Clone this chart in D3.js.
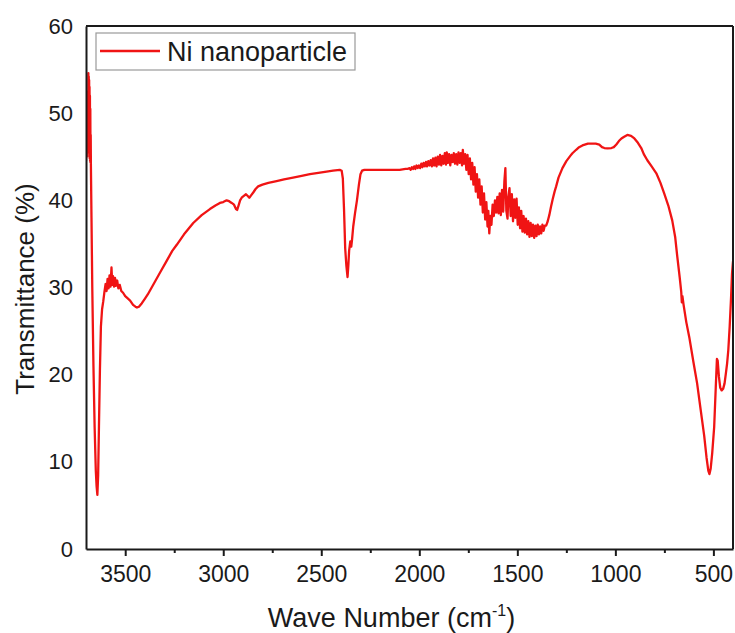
<!DOCTYPE html>
<html>
<head>
<meta charset="utf-8">
<script src="https://cdn.jsdelivr.net/npm/d3@7"></script>
<style>
  html, body { margin: 0; padding: 0; background: #fff; }
  svg { display: block; font-family: "Liberation Sans", Arial, sans-serif; }
</style>
</head>
<body>
<svg id="chart" width="735" height="633"></svg>
<script>
// ---- Data ----
const seriesName = "Ni nanoparticle";
const xTicks = [3500, 3000, 2500, 2000, 1500, 1000, 500];
const xMinorTicks = [3250, 2750, 2250, 1750, 1250, 750];
const yTicks = [0, 10, 20, 30, 40, 50, 60];

const wavenumber = [
  3700, 3698, 3696, 3694, 3692, 3690, 3689, 3688, 3687, 3686, 3685, 3684, 3683, 3682, 3681, 3680, 3679, 3678, 3677, 3676,
  3675, 3672, 3668, 3662, 3656, 3650, 3646, 3642, 3638, 3634, 3629, 3624, 3618, 3612,
  3606, 3600, 3595, 3590, 3585, 3580, 3575, 3570, 3566, 3562, 3557, 3552, 3547, 3541, 3535, 3528, 3520, 3511, 3500, 3490,
  3475, 3460, 3448, 3440, 3430, 3415, 3400, 3385, 3370, 3350, 3320, 3290, 3260, 3237, 3200, 3153, 3110, 3068, 3040, 3017,
  3000, 2983, 2970, 2957, 2945, 2935, 2929, 2922, 2914, 2906, 2895, 2884, 2875, 2867, 2857, 2847, 2835, 2822, 2800, 2770,
  2728, 2690, 2644, 2600, 2558, 2515, 2473, 2440, 2406, 2396, 2390, 2384, 2378, 2372, 2366, 2362, 2358, 2352, 2347, 2343,
  2337, 2328, 2318, 2308, 2300, 2292, 2280, 2253, 2200, 2150, 2100, 2070,
  2060, 2050, 2044, 2038, 2032, 2026, 2020, 2014, 2008, 2002, 1996, 1990, 1984, 1978, 1972, 1966, 1960, 1954, 1948, 1942,
  1936, 1930, 1924, 1918, 1912, 1906, 1900, 1894, 1888, 1882, 1876, 1870, 1864, 1860, 1854, 1848, 1842, 1836, 1830, 1824,
  1818, 1812, 1806, 1800, 1794, 1788, 1782, 1778, 1772, 1766, 1760, 1754, 1748, 1742, 1736, 1730, 1724, 1718, 1712, 1706,
  1700, 1694, 1688, 1682, 1676, 1670, 1664, 1658, 1652, 1648, 1643, 1638, 1632, 1626, 1620, 1614, 1608, 1602, 1596, 1590,
  1584, 1578, 1572, 1566, 1561, 1556, 1550, 1546, 1540, 1534, 1528, 1522, 1516, 1510, 1504, 1498, 1492, 1486, 1480, 1474,
  1468, 1462, 1456, 1450, 1444, 1438, 1432, 1426, 1420, 1414, 1408, 1402, 1396, 1390, 1384, 1378, 1372, 1366, 1360, 1353,
  1345, 1337, 1328, 1320, 1310, 1302, 1290, 1270, 1250, 1230, 1219, 1200, 1185, 1168, 1140, 1117, 1100, 1082, 1068, 1056,
  1040, 1020, 1008, 995, 982, 969, 955, 939, 920, 903, 885, 868, 855, 837, 815, 791, 770, 751, 730, 710,
  695, 684, 672, 664, 661, 658, 652, 638, 623, 603, 583, 565, 547, 535, 526, 520, 514, 506, 496, 488,
  482, 478, 472, 465, 458, 450, 443, 436, 430, 424, 417, 410, 405, 400
];

const transmittance = [
  44.5, 48.0, 45.0, 50.0, 46.0, 52.5, 45.5, 54.6, 46.0, 54.2, 45.5, 53.8, 45.0, 53.0, 44.8, 52.0, 44.5, 50.5, 44.3, 47.5,
  44.0, 38.0, 30.0, 21.0, 14.0, 9.0, 7.2, 6.2, 8.5, 14.0, 20.5, 25.5, 27.5, 28.4,
  29.5, 30.4, 29.6, 31.0, 29.9, 31.4, 30.1, 32.3, 30.3, 31.3, 30.1, 31.1, 30.2, 30.8, 29.9, 30.3, 29.6, 29.4, 29.0, 28.8,
  28.5, 28.0, 27.8, 27.7, 27.8, 28.2, 28.7, 29.2, 29.8, 30.6, 31.8, 33.0, 34.2, 34.9, 36.1, 37.4, 38.3, 39.0, 39.4, 39.7,
  39.8, 40.0, 39.9, 39.7, 39.5, 39.0, 38.9, 39.4, 40.0, 40.3, 40.5, 40.7, 40.5, 40.3, 40.6, 40.9, 41.3, 41.6, 41.8, 42.0,
  42.2, 42.4, 42.6, 42.8, 43.0, 43.15, 43.3, 43.4, 43.5, 43.4, 42.5, 39.0, 34.5, 32.5, 31.2, 32.5, 34.2, 35.3, 34.7, 35.5,
  37.0, 38.5, 40.0, 41.8, 43.0, 43.4, 43.5, 43.5, 43.5, 43.5, 43.5, 43.6,
  43.6, 43.7, 43.5, 43.8, 43.6, 43.9, 43.6, 44.0, 43.7, 44.0, 43.7, 44.2, 43.8, 44.3, 43.9, 44.4, 43.9, 44.5, 44.0, 44.6,
  43.9, 44.8, 44.0, 44.9, 43.9, 45.0, 44.1, 45.2, 44.0, 45.1, 44.2, 45.4, 44.1, 45.5, 44.3, 45.3, 44.0, 45.2, 44.4, 45.4,
  44.2, 45.3, 44.1, 45.5, 44.3, 45.4, 44.0, 45.8, 44.2, 45.3, 43.5, 45.2, 43.0, 44.8, 42.4, 44.3, 41.8, 43.8, 41.0, 43.0,
  40.3, 42.4, 39.5, 41.6, 38.6, 40.8, 37.8, 39.8, 37.0, 38.8, 36.2, 38.2, 37.2, 39.5, 38.2, 40.0, 38.6, 40.4, 38.5, 40.8,
  38.3, 41.2, 38.7, 42.2, 43.7, 38.8, 37.9, 40.4, 41.4, 38.2, 40.7, 37.6, 40.1, 38.0, 40.2, 37.2, 39.2, 36.8, 38.8, 36.4,
  38.2, 36.3, 37.9, 36.1, 37.6, 35.8, 37.4, 35.9, 37.2, 35.7, 37.1, 35.9, 37.2, 36.1, 37.0, 36.2, 37.2, 36.5, 37.1, 37.1,
  37.6, 38.3, 39.3, 40.1, 41.0, 41.6, 42.6, 43.7, 44.5, 45.1, 45.4, 45.8, 46.1, 46.3, 46.5, 46.5, 46.5, 46.4, 46.1, 46.0,
  45.95, 46.0, 46.1, 46.4, 46.8, 47.1, 47.3, 47.5, 47.4, 47.1, 46.6, 46.0, 45.3, 44.6, 43.9, 43.1, 42.0, 40.8, 39.4, 37.7,
  35.8, 33.5, 31.2, 29.5, 28.3, 29.0, 28.0, 26.0, 24.3, 21.6, 19.0, 16.0, 13.0, 10.5, 9.0, 8.6, 9.2, 11.0, 14.0, 18.5,
  21.8, 21.6, 19.8, 18.5, 18.2, 18.4, 19.0, 20.2, 21.3, 22.8, 25.5, 28.8, 31.6, 33.0
];

(function () {
  const svg = d3.select("#chart");
  const mL = 86, mR = 733, mT = 26, mB = 549;
  const x = d3.scaleLinear().domain([3700, 400]).range([mL, mR]);
  const y = d3.scaleLinear().domain([0, 60]).range([mB, mT]);
  const ink = "#1a1a1a";
  const red = "#f01414";

  const n = Math.min(wavenumber.length, transmittance.length);
  if (wavenumber.length !== transmittance.length) console.warn("length mismatch", wavenumber.length, transmittance.length);
  const data = d3.range(n).map(i => ({ w: wavenumber[i], t: transmittance[i] }));

  svg.append("clipPath").attr("id", "clip")
    .append("rect").attr("x", mL).attr("y", mT).attr("width", mR - mL).attr("height", mB - mT);

  svg.append("path")
    .datum(data)
    .attr("clip-path", "url(#clip)")
    .attr("fill", "none")
    .attr("stroke", red)
    .attr("stroke-width", 2.3)
    .attr("stroke-linejoin", "round")
    .attr("d", d3.line().x(d => x(d.w)).y(d => y(d.t)));

  svg.append("line").attr("x1", mL).attr("x2", mR).attr("y1", mT).attr("y2", mT)
    .attr("stroke", ink).attr("stroke-width", 2);
  svg.append("line").attr("x1", mR).attr("x2", mR).attr("y1", mT).attr("y2", mB)
    .attr("stroke", ink).attr("stroke-width", 2);

  const xAxis = svg.append("g").attr("transform", `translate(0,${mB})`)
    .call(d3.axisBottom(x).tickValues(xTicks).tickSize(7).tickSizeOuter(0).tickPadding(10).tickFormat(d3.format("d")));
  xAxis.select(".domain").attr("stroke", ink).attr("stroke-width", 2);
  xAxis.selectAll(".tick line").attr("stroke", ink).attr("stroke-width", 2);
  xAxis.selectAll(".tick text").attr("font-size", 23).attr("fill", ink)
    .attr("font-family", "Liberation Sans, Arial, sans-serif");

  const xMinor = svg.append("g").attr("transform", `translate(0,${mB})`)
    .call(d3.axisBottom(x).tickValues(xMinorTicks).tickSize(4).tickSizeOuter(0).tickFormat(""));
  xMinor.select(".domain").remove();
  xMinor.selectAll(".tick line").attr("stroke", ink).attr("stroke-width", 2);

  const yAxis = svg.append("g").attr("transform", `translate(${mL},0)`)
    .call(d3.axisLeft(y).tickValues(yTicks).tickSize(0).tickPadding(13).tickFormat(d3.format("d")));
  yAxis.select(".domain").attr("stroke", ink).attr("stroke-width", 2);
  yAxis.selectAll(".tick text").attr("font-size", 22).attr("fill", ink)
    .attr("font-family", "Liberation Sans, Arial, sans-serif");

  const xt = svg.append("text")
    .attr("x", (mL + mR) / 2 - 18).attr("y", 627)
    .attr("text-anchor", "middle").attr("font-size", 27).attr("fill", ink);
  xt.append("tspan").text("Wave Number (cm");
  xt.append("tspan").attr("font-size", 16).attr("dy", -11).text("-1");
  xt.append("tspan").attr("dy", 11).text(")");

  svg.append("text")
    .attr("transform", `translate(34,289) rotate(-90)`)
    .attr("text-anchor", "middle").attr("font-size", 26).attr("fill", ink)
    .text("Transmittance (%)");

  const lg = svg.append("g");
  lg.append("rect").attr("x", 96).attr("y", 33).attr("width", 259).attr("height", 37)
    .attr("fill", "#fff").attr("stroke", "#9a9a9a").attr("stroke-width", 1.2);
  lg.append("line").attr("x1", 100).attr("x2", 160).attr("y1", 51).attr("y2", 51)
    .attr("stroke", red).attr("stroke-width", 2.5);
  lg.append("text").attr("x", 167).attr("y", 61).attr("font-size", 27).attr("fill", ink)
    .text(seriesName);
})();
</script>
</body>
</html>
